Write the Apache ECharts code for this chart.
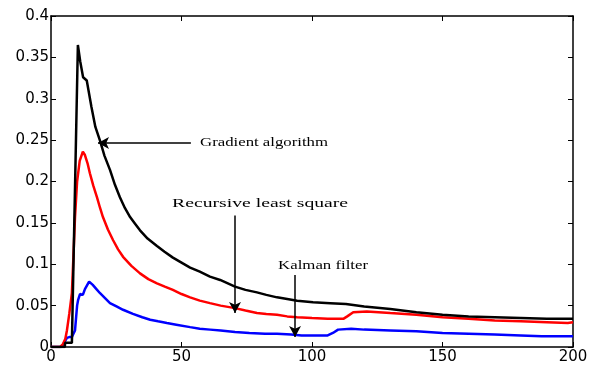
<!DOCTYPE html>
<html><head><meta charset="utf-8">
<script src="https://cdn.jsdelivr.net/npm/echarts@6/dist/echarts.min.js"></script>
<style>html,body{margin:0;padding:0;background:#fff}#c{width:596px;height:369px}</style>
</head><body><div id="c"></div>
<script>
// Gradient algorithm
const gradX = [0,5.3,5.4,8,10.3,11.2,12.3,13.7,15.5,17,18.8,20.5,22.6,24.5,26.4,28.3,30.3,32.2,34.1,37,40.6,43.5,46.7,50,53.3,57,60.9,64.8,70.5,74.5,78.9,82.5,86.6,90.5,94.3,100.4,107,113,120,130,140,150,160,170,180,190,200];
const gradY = [0,0,0.005,0.005,0.365,0.345,0.326,0.322,0.29,0.266,0.249,0.231,0.214,0.196,0.181,0.168,0.157,0.149,0.141,0.131,0.122,0.115,0.108,0.102,0.096,0.091,0.085,0.081,0.073,0.069,0.066,0.063,0.060,0.058,0.056,0.054,0.053,0.052,0.049,0.046,0.042,0.039,0.037,0.036,0.035,0.034,0.034];
// Recursive least square
const rlsX = [0,3.5,4.5,5.5,6.1,7,8,8.6,9.2,10,11,12.2,13,14,14.9,16.2,17.6,18.8,19.9,21.8,23.8,25.7,27.6,30.8,34.1,37.3,40.6,43.6,46.7,50,53.3,57,60.9,65,70.5,74.5,78.9,82.5,86.6,90.5,94.3,100,106,112,113.5,115.8,121,130,140,150,160,170,180,190,198,200];
const rlsY = [0,0,0.003,0.01,0.02,0.04,0.065,0.11,0.157,0.2,0.225,0.236,0.232,0.222,0.21,0.195,0.181,0.168,0.157,0.142,0.129,0.118,0.109,0.098,0.089,0.082,0.077,0.073,0.069,0.064,0.060,0.056,0.053,0.050,0.047,0.044,0.041,0.040,0.039,0.037,0.036,0.035,0.034,0.034,0.037,0.042,0.043,0.041,0.039,0.036,0.034,0.032,0.031,0.03,0.029,0.03];
// Kalman filter
const kalX = [0,4,5,6.1,7,8,9.2,10,10.4,11.1,12.2,13,14.6,16,17.4,18.8,20.7,22.6,25.1,27.6,31.4,35,38,41,44.4,48,53.3,57,61,65,70.5,76,82,86.6,92,96,100,106,108,110,115,120,130,140,150,160,170,180,188,200];
const kalY = [0,0,0.005,0.011,0.012,0.012,0.02,0.05,0.057,0.064,0.063,0.07,0.079,0.075,0.070,0.065,0.059,0.053,0.049,0.045,0.040,0.036,0.033,0.031,0.029,0.027,0.024,0.022,0.021,0.020,0.018,0.017,0.016,0.016,0.015,0.014,0.014,0.014,0.017,0.021,0.022,0.021,0.02,0.019,0.017,0.016,0.015,0.014,0.013,0.013];

const seriesNames = ['Gradient algorithm','Recursive least square','Kalman filter'];
const seriesColors = ['#000000','#ff0000','#0000ff'];

// annotation arrows (data coordinates): [fromX, fromY, toX, toY]
const arrows = [[53.6,0.2465,18,0.2465],[70.5,0.159,70.5,0.041],[93.5,0.087,93.5,0.012]];
// annotation texts: [text, leftX, midY]
const labels = [['Gradient algorithm',57.1,0.2465],['Recursive least square',46.4,0.173],['Kalman filter',87,0.098]];
const labelWidths = [128,176,90];

function pairs(xs, ys){ return xs.map((x,i)=>[x,ys[i]]); }

const axisFont = {fontFamily:'DejaVu Sans', fontSize:15, color:'#000'};
const chart = echarts.init(document.getElementById('c'), null, {renderer:'canvas'});
const lineAxis = {lineStyle:{color:'#000',width:1.5}};
const tick = {inside:true,length:5,lineStyle:{color:'#000',width:1}};
const lineCommon = {type:'line',showSymbol:false};

chart.setOption({
  animation:false,
  backgroundColor:'#fff',
  grid:{left:51,right:23,top:16,bottom:22,containLabel:false},
  xAxis:[
    {type:'value',min:0,max:200,interval:50,position:'bottom',axisLine:{...lineAxis,onZero:false},axisTick:tick,splitLine:{show:false},axisLabel:{...axisFont,margin:3}},
    {type:'value',min:0,max:200,interval:50,position:'top',axisLine:{...lineAxis,onZero:false},axisTick:tick,splitLine:{show:false},axisLabel:{show:false}}
  ],
  yAxis:[
    {type:'value',min:0,max:0.4,interval:0.05,position:'left',axisLine:{show:true,...lineAxis,onZero:false},axisTick:{show:true,...tick},splitLine:{show:false},axisLabel:{...axisFont,margin:2}},
    {type:'value',min:0,max:0.4,interval:0.05,position:'right',axisLine:{show:true,...lineAxis,onZero:false},axisTick:{show:true,...tick},splitLine:{show:false},axisLabel:{show:false}}
  ],
  series:[
    {...lineCommon,name:seriesNames[0],data:pairs(gradX,gradY),lineStyle:{color:seriesColors[0],width:2.5},itemStyle:{color:seriesColors[0]},z:4,
     markLine:{silent:true,symbol:['none','arrow'],symbolSize:[9,11],lineStyle:{color:'#000',width:1.5,type:'solid'},label:{show:false},
       data:arrows.map(a=>[{coord:[a[0],a[1]]},{coord:[a[2],a[3]]}])}},
    {...lineCommon,name:seriesNames[1],data:pairs(rlsX,rlsY),lineStyle:{color:seriesColors[1],width:2.5},itemStyle:{color:seriesColors[1]},z:3},
    {...lineCommon,name:seriesNames[2],data:pairs(kalX,kalY),lineStyle:{color:seriesColors[2],width:2.5},itemStyle:{color:seriesColors[2]},z:2}
  ]
});

const font = "13px 'Liberation Serif'";
const ctx = document.createElement('canvas').getContext('2d');
ctx.font = font;
chart.setOption({
  graphic: labels.map((l,i)=>{
    const p = chart.convertToPixel({gridIndex:0},[l[1],l[2]]);
    const w = ctx.measureText(l[0]).width;
    return {type:'text',x:p[0],y:p[1],scaleX:labelWidths[i]/w,z:10,
      style:{text:l[0],font:font,fill:'#000',align:'left',verticalAlign:'middle'}};
  })
});
</script></body></html>
